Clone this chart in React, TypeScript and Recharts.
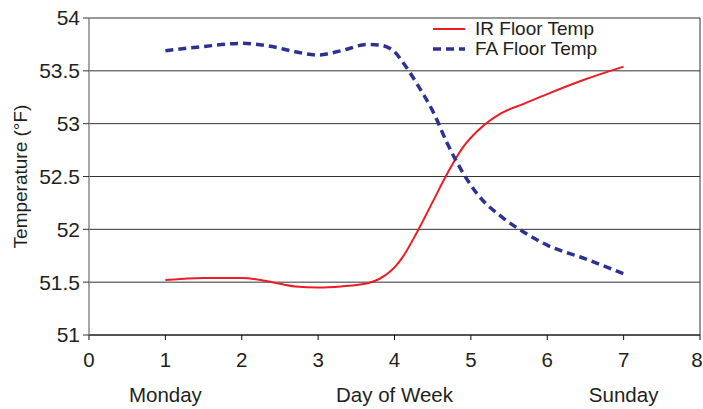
import { LineChart, Line, XAxis, YAxis, CartesianGrid, ReferenceLine } from 'recharts';

const days = [1, 1.5, 2, 2.4, 2.7, 3, 3.3, 3.65, 3.8, 4.0, 4.1, 4.3, 4.5, 4.7, 4.9, 5.1, 5.4, 5.7, 6, 6.5, 7];
const irFloor = [51.52, 51.54, 51.54, 51.5, 51.46, 51.45, 51.46, 51.49, 51.53, 51.64, 51.73, 51.98, 52.26, 52.54, 52.78, 52.94, 53.1, 53.19, 53.28, 53.42, 53.54];
const faFloor = [53.69, 53.73, 53.76, 53.73, 53.68, 53.65, 53.69, 53.75, 53.745, 53.68, 53.59, 53.37, 53.12, 52.8, 52.53, 52.32, 52.12, 51.97, 51.85, 51.72, 51.58];

const xTicks = [0, 1, 2, 3, 4, 5, 6, 7, 8];
const dayNames = ['', 'Monday', '', '', '', '', '', 'Sunday', ''];
const yTicks = [51, 51.5, 52, 52.5, 53, 53.5, 54];

const series = [
  { key: 'ir', name: 'IR Floor Temp', color: '#ed1c24', width: 2, dash: undefined as string | undefined },
  { key: 'fa', name: 'FA Floor Temp', color: '#2e3192', width: 3.5, dash: '8 5' },
];

const data = days.map((d, i) => ({ day: d, ir: irFloor[i], fa: faFloor[i] }));

const ink = '#231f20';

function DayTick({ x, y, payload }: any) {
  const i = xTicks.indexOf(payload.value);
  const last = i === xTicks.length - 1;
  return (
    <g transform={`translate(${x},${y})`}>
      <text textAnchor="middle" dx={last ? -3 : 0} dy={25} fontSize={20.5} fill={ink}>{payload.value}</text>
      {dayNames[i] && (
        <text textAnchor="middle" dy={60} fontSize={20.5} fill={ink}>{dayNames[i]}</text>
      )}
    </g>
  );
}

// legend drawn as a plain overlay so it doesn't eat into the plot area
function LegendBox() {
  return (
    <div style={{ position: 'absolute', left: 433, top: 19, fontSize: 19, color: ink, lineHeight: '20px' }}>
      {series.map(s => (
        <div key={s.key} style={{ display: 'flex', alignItems: 'center', height: 20 }}>
          <svg width={32} height={6} style={{ display: 'block' }}>
            <line x1={0} x2={32} y1={3} y2={3} stroke={s.color} strokeWidth={s.width} strokeDasharray={s.dash} />
          </svg>
          <span style={{ marginLeft: 10, whiteSpace: 'nowrap' }}>{s.name}</span>
        </div>
      ))}
    </div>
  );
}

export default function App() {
  return (
    <div style={{ position: 'absolute', left: 0, top: 0, width: 703, height: 409, fontFamily: '"Liberation Sans", Arial, sans-serif', background: '#fff' }}>
      <LineChart width={703} height={409} data={data} margin={{ top: 18, right: 3, bottom: 0, left: 0 }}>
        <CartesianGrid vertical={false} stroke="#333" />
        <XAxis
          type="number"
          dataKey="day"
          domain={[0, 8]}
          ticks={xTicks}
          interval={0}
          height={74}
          tickSize={5}
          tickMargin={2}
          stroke="#111"
          tick={<DayTick />}
          label={{ value: 'Day of Week', position: 'insideBottom', offset: 7, fontSize: 20.5, fill: ink }}
        />
        <YAxis
          type="number"
          domain={[51, 54]}
          ticks={yTicks}
          interval={0}
          width={89}
          tickSize={6}
          tickMargin={3}
          axisLine={{ stroke: '#888', strokeWidth: 1.5 }}
          tickLine={{ stroke: '#333' }}
          tick={{ fontSize: 21, fill: ink }}
          label={{ value: 'Temperature (°F)', angle: -90, position: 'insideLeft', offset: 20, fontSize: 19, fill: ink, style: { textAnchor: 'middle' } }}
        />
        <ReferenceLine x={8} stroke="#333" />
        {series.map(s => (
          <Line
            key={s.key}
            type="monotone"
            dataKey={s.key}
            name={s.name}
            stroke={s.color}
            strokeWidth={s.width}
            strokeDasharray={s.dash}
            dot={false}
            activeDot={false}
            isAnimationActive={false}
          />
        ))}
      </LineChart>
      <LegendBox />
    </div>
  );
}
